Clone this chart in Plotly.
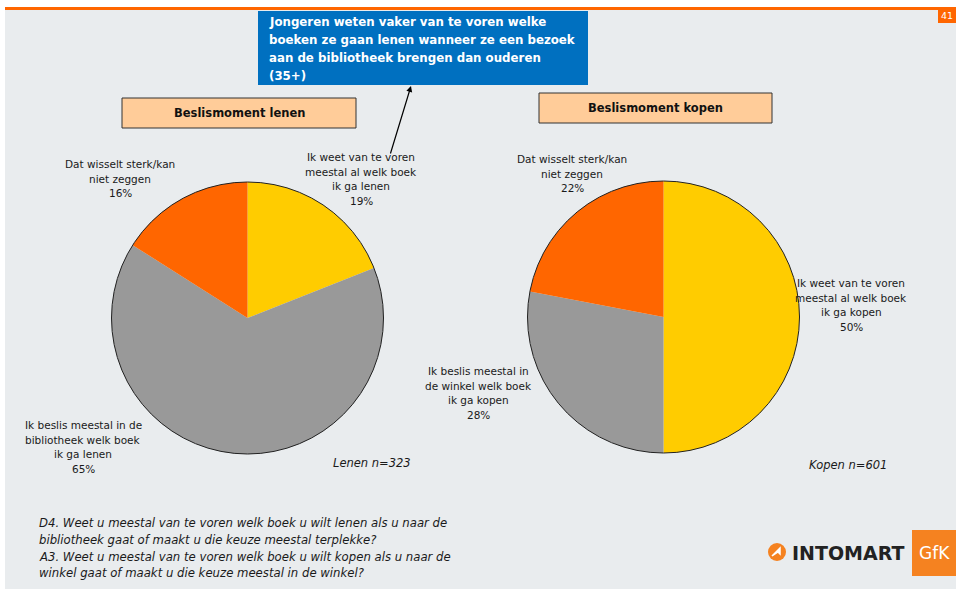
import plotly.graph_objects as go

W, H = 956, 589

# ---- data -------------------------------------------------------------
slices_lenen = [
    "Ik weet van te voren<br>meestal al welk boek<br>ik ga lenen",
    "Ik beslis meestal in de<br>bibliotheek welk boek<br>ik ga lenen",
    "Dat wisselt sterk/kan<br>niet zeggen",
]
values_lenen = [19, 65, 16]

slices_kopen = [
    "Ik weet van te voren<br>meestal al welk boek<br>ik ga kopen",
    "Ik beslis meestal in<br>de winkel welk boek<br>ik ga kopen",
    "Dat wisselt sterk/kan<br>niet zeggen",
]
values_kopen = [50, 28, 22]

slice_colors = ["#FFCC00", "#999999", "#FF6600"]

title_lenen = "Beslismoment lenen"
title_kopen = "Beslismoment kopen"
n_lenen = "Lenen n=323"
n_kopen = "Kopen n=601"
callout = ("Jongeren weten vaker van te voren welke<br>"
           "boeken ze gaan lenen wanneer ze een bezoek<br>"
           "aan de bibliotheek brengen dan ouderen<br>(35+)")
footnote = ("D4. Weet u meestal van te voren welk boek u wilt lenen als u naar de<br>"
            "bibliotheek gaat of maakt u die keuze meestal terplekke?<br>"
            "A3. Weet u meestal van te voren welk boek u wilt kopen als u naar de<br>"
            "winkel gaat of maakt u die keuze meestal in de winkel?")
page_no = "41"

BG = "#E9ECEE"
FONT = "DejaVu Sans"


def px(x):
    return x / W


def py(y):
    return 1 - y / H


fig = go.Figure()

# ---- pies -------------------------------------------------------------
pies = [
    (slices_lenen, values_lenen, 247.5, 318, 136),
    (slices_kopen, values_kopen, 663.5, 317, 136),
]
for labels, values, cx, cy, r in pies:
    fig.add_trace(go.Pie(
        labels=[l.replace("<br>", " ") for l in labels],
        values=values,
        sort=False,
        direction="clockwise",
        rotation=0,
        marker=dict(colors=slice_colors, line=dict(width=0)),
        textinfo="none",
        hoverinfo="label+percent",
        showlegend=False,
        domain=dict(x=[px(cx - r), px(cx + r)], y=[py(cy + r), py(cy - r)]),
    ))

shapes = []
# page frame: white top and left strips, orange rule, page number tab
shapes.append(dict(type="rect", xref="paper", yref="paper", x0=0, x1=1, y0=py(7), y1=1,
                   fillcolor="white", line_width=0, layer="below"))
shapes.append(dict(type="rect", xref="paper", yref="paper", x0=0, x1=px(5), y0=0, y1=1,
                   fillcolor="white", line_width=0, layer="below"))
shapes.append(dict(type="rect", xref="paper", yref="paper", x0=px(5), x1=1, y0=py(10), y1=py(7),
                   fillcolor="#FF6600", line_width=0))
shapes.append(dict(type="rect", xref="paper", yref="paper", x0=px(938), x1=1, y0=py(23), y1=py(7),
                   fillcolor="#FF6600", line_width=0))

# pie outlines
for _, _, cx, cy, r in pies:
    shapes.append(dict(type="circle", xref="paper", yref="paper",
                       x0=px(cx - r), x1=px(cx + r), y0=py(cy + r), y1=py(cy - r),
                       line=dict(color="#222222", width=1)))

# title boxes
for (x0, y0, x1, y1) in [(122, 98, 356, 128), (539, 93, 772, 123)]:
    shapes.append(dict(type="rect", xref="paper", yref="paper",
                       x0=px(x0), x1=px(x1), y0=py(y1), y1=py(y0),
                       fillcolor="#FFCC99", line=dict(color="#333333", width=1)))

# callout box
shapes.append(dict(type="rect", xref="paper", yref="paper",
                   x0=px(258), x1=px(588), y0=py(85), y1=py(11),
                   fillcolor="#0070C0", line_width=0))

# logo: round icon and GfK tile
shapes.append(dict(type="circle", xref="paper", yref="paper",
                   x0=px(768), x1=px(786), y0=py(561), y1=py(543),
                   fillcolor="#F58220", line_width=0))
shapes.append(dict(type="path", xref="paper", yref="paper",
                   path=(f"M {px(772)} {py(556)} L {px(780)} {py(548)} L {px(780)} {py(554)} "
                         f"L {px(778)} {py(552)} Z"),
                   fillcolor="white", line=dict(color="white", width=1.5)))
shapes.append(dict(type="rect", xref="paper", yref="paper",
                   x0=px(912), x1=1, y0=py(576), y1=py(530),
                   fillcolor="#F58220", line_width=0))

ann = []


def text_at(text, x, y, size, color="#1a1a1a", italic=False, xanchor="center", align="center"):
    ann.append(dict(x=px(x), y=py(y), xref="paper", yref="paper", text=text,
                    showarrow=False, xanchor=xanchor, yanchor="middle", align=align,
                    font=dict(family=FONT, size=size, color=color,
                              style="italic" if italic else "normal")))


def lines_at(text, x, y_first, step, size=10.5, **kw):
    for i, line in enumerate(text.split("<br>")):
        text_at(line, x, y_first + i * step, size, **kw)


# slice labels (label text + share)
label_pos_lenen = [(361, 157), (83, 425), (120, 164)]
label_pos_kopen = [(851, 283), (478, 371), (572, 159)]
for labels, values, positions in [(slices_lenen, values_lenen, label_pos_lenen),
                                  (slices_kopen, values_kopen, label_pos_kopen)]:
    for lab, v, (cx, cy) in zip(labels, values, positions):
        lines_at(f"{lab}<br>{v}%", cx, cy, 14.6)

# sample sizes
text_at(n_lenen, 372, 463, 11.5, italic=True)
text_at(n_kopen, 848, 465, 11.5, italic=True)

# box titles
text_at(f"<b>{title_lenen}</b>", 239, 113, 11.5, color="#111111")
text_at(f"<b>{title_kopen}</b>", 655.5, 108, 11.5, color="#111111")

# callout text and arrow
lines_at(f"<b>{callout.replace('<br>', '</b><br><b>')}</b>", 267, 22, 18, size=11.8,
         color="white", xanchor="left", align="left")
ann.append(dict(x=px(411), y=py(86), xref="paper", yref="paper", text="",
                showarrow=True, arrowhead=2, arrowsize=1, arrowwidth=1.2, arrowcolor="black",
                ax=-21, ay=69))

# footnote
lines_at(footnote, 37, 523, 16.8, size=11.7, italic=True, xanchor="left", align="left")

# logo text
text_at("<b>INTOMART</b>", 790, 553, 19, color="#222222", xanchor="left")
text_at("GfK", 934, 553, 17, color="white")

# page number
text_at(page_no, 947, 15, 9.5, color="white")

fig.update_layout(
    width=W, height=H,
    margin=dict(l=0, r=0, t=0, b=0),
    paper_bgcolor=BG,
    plot_bgcolor=BG,
    shapes=shapes,
    annotations=ann,
)

fig.write_html("out.html")
